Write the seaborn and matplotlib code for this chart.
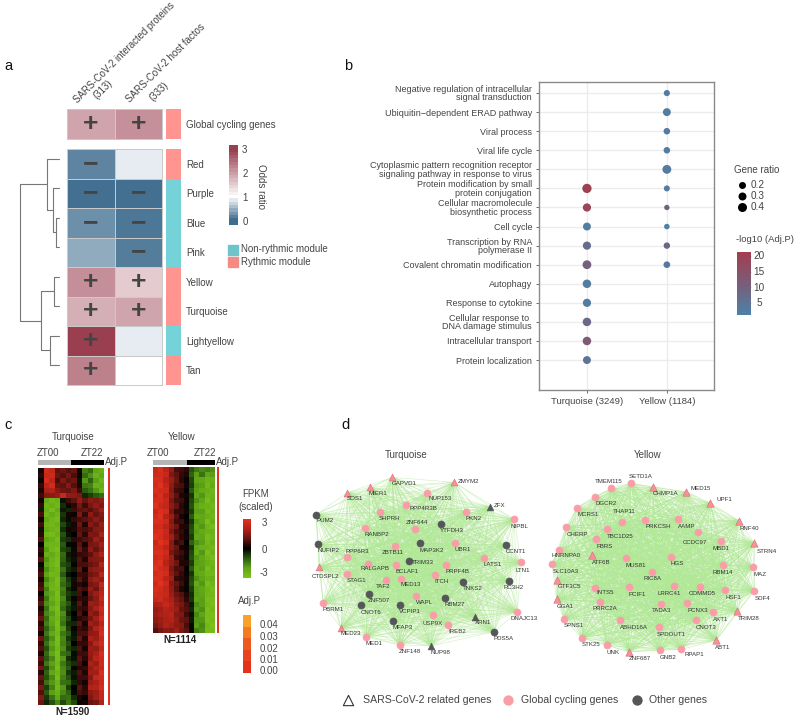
import itertools
import numpy as np
import pandas as pd
import matplotlib
matplotlib.use("Agg")
import matplotlib.pyplot as plt
from matplotlib.colors import LinearSegmentedColormap, ListedColormap, Normalize
from matplotlib.cm import ScalarMappable
from matplotlib.collections import LineCollection
import seaborn as sns

sns.set_theme(style="white")
plt.rcParams["font.family"] = ["Liberation Sans", "DejaVu Sans"]
TXT = "#444444"
plt.rcParams["text.color"] = TXT
plt.rcParams["axes.labelcolor"] = TXT
plt.rcParams["xtick.color"] = TXT
plt.rcParams["ytick.color"] = TXT

W, H = 796, 716
fig = plt.figure(figsize=(W / 100, H / 100), dpi=100)
def pix(x0, y0, x1, y1, **kw):
    return fig.add_axes([x0 / W, 1 - y1 / H, (x1 - x0) / W, (y1 - y0) / H], **kw)

over = pix(0, 0, W, H)
over.set_xlim(0, W); over.set_ylim(H, 0); over.axis("off")
def T(x, y, s, size=7, ha="left", va="center", **kw):
    over.text(x, y, s, fontsize=size, ha=ha, va=va, **kw)

# ---------------- panel a data
a_cols = ["SARS-CoV-2 interacted proteins", "SARS-CoV-2 host factos"]
a_global_name = ["Global cycling genes"]
a_global = [[1.95, 2.15]]
a_global_sign = [["+", "+"]]
a_rows = ["Red", "Purple", "Blue", "Pink", "Yellow", "Turquoise", "Lightyellow", "Tan"]
a_vals = [[0.16, 0.88], [0.03, 0.03], [0.24, 0.08], [0.42, 0.12],
          [2.17, 1.55], [1.83, 1.95], [3.0, 0.88], [2.3, 1.0]]
a_sign = [["\u2212", ""], ["\u2212", "\u2212"], ["\u2212", "\u2212"], ["", "\u2212"],
          ["+", "+"], ["+", "+"], ["+", ""], ["+", ""]]
a_rhythmic = [1, 0, 0, 0, 1, 1, 0, 1]
# dendrogram merges: height, lower child (pos, h), upper child (pos, h)
d_merges = [(2.7, (2.33, 0), (3.33, 0)),
            (5.3, (1.33, 0), (2.83, 2.7)),
            (11.7, (0.33, 0), (2.08, 5.3)),
            (4.3, (4.33, 0), (5.33, 0)),
            (9.0, (6.33, 0), (7.33, 0)),
            (18.0, (4.83, 4.3), (6.83, 9.0)),
            (39.0, (1.2, 11.7), (5.83, 18.0))]

# ---------------- panel b data
b_terms = ["Negative regulation of intracellular\nsignal transduction",
           "Ubiquitin\u2212dependent ERAD pathway", "Viral process", "Viral life cycle",
           "Cytoplasmic pattern recognition receptor\nsignaling pathway in response to virus",
           "Protein modification by small\nprotein conjugation",
           "Cellular macromolecule\nbiosynthetic process", "Cell cycle",
           "Transcription by RNA\npolymerase II", "Covalent chromatin modification",
           "Autophagy", "Response to cytokine", "Cellular response to \nDNA damage stimulus",
           "Intracellular transport", "Protein localization"]
b_modules = ["Turquoise (3249)", "Yellow (1184)"]
b_yellow_ratio = [0.11, 0.27, 0.14, 0.14, 0.37, 0.10, 0.05, 0.06, 0.13, 0.15]
b_yellow_p = [3, 3, 3, 3, 3, 3, 10, 2, 9, 4]
b_turq_terms = b_terms[5:]
b_turq_ratio = [0.42, 0.30, 0.27, 0.30, 0.36, 0.33, 0.30, 0.33, 0.33, 0.27]
b_turq_p = [20, 19, 3, 7, 10, 3, 2.5, 8, 12, 5]

# ---------------- panel c data
c_turq = [
 [0.2,2.6,2.3,0.9,1.1,0.8,1.0,0.2,-1.5,-1.2,-2.1,-2.3],
 [0.4,2.4,2.5,1.1,0.8,1.2,0.7,0.1,-1.2,-1.7,-2.4,-2.0],
 [0.1,2.7,2.2,0.7,1.3,0.9,1.1,-0.2,-1.8,-1.1,-1.9,-2.5],
 [0.5,2.2,2.6,1.0,0.9,1.4,0.8,0.3,-1.4,-1.5,-2.3,-2.2],
 [0.3,1.9,2.0,1.4,1.1,1.0,1.3,0.6,-1.0,-1.3,-1.8,-2.4],
 [0.6,1.4,1.5,1.7,2.4,1.6,1.5,1.3,-0.4,-0.7,-1.0,-1.2],
 [0.2,-2.2,-2.6,-2.4,-0.2,0.6,0.9,1.6,1.0,1.5,1.3,1.6],
 [0.5,-2.5,-2.3,-2.6,-0.5,0.1,0.4,1.2,0.6,1.2,1.6,1.3],
 [-0.3,-2.3,-2.7,-2.2,-0.3,-0.4,0.6,0.9,1.0,0.8,1.2,1.8],
 [0.7,-2.6,-2.2,-2.5,-0.6,0.2,0.1,1.3,0.5,1.5,1.0,1.4],
 [0.1,-2.1,-2.5,-2.7,-0.4,-0.1,0.5,0.7,0.9,1.1,1.5,1.2],
 [0.6,-2.4,-2.6,-2.3,-0.8,-0.3,0.2,1.1,0.3,1.4,1.1,1.7],
 [-0.2,-2.2,-2.4,-2.6,-0.5,0.2,0.3,0.8,0.7,0.9,1.4,1.5],
 [0.4,-2.6,-2.7,-2.4,-0.9,-0.2,0.0,1.0,0.4,1.3,1.2,1.9],
 [0.8,-2.0,-2.3,-2.7,-0.7,-0.5,0.4,0.6,0.8,1.0,1.7,1.4],
 [0.0,-2.4,-2.5,-2.5,-1.0,-0.1,0.1,0.9,0.2,1.2,1.3,1.8],
 [0.5,-1.9,-2.6,-2.8,-0.8,-0.6,-0.1,1.1,0.5,1.5,1.0,1.6],
 [0.3,-2.3,-2.2,-2.6,-1.2,-0.3,0.2,0.5,0.6,0.9,1.5,2.0],
 [0.9,-1.8,-2.4,-2.7,-1.1,-0.4,-0.2,0.8,0.3,1.3,1.4,1.5],
 [-0.1,-2.1,-2.5,-2.8,-0.9,-0.7,0.1,0.7,0.7,1.0,1.2,2.1],
 [0.4,-1.7,-2.3,-2.6,-1.3,-0.5,-0.3,1.0,0.1,1.4,1.6,1.7],
 [0.7,-2.0,-2.6,-2.5,-1.0,-0.2,0.0,0.6,0.5,1.1,1.3,2.2],
 [0.2,-1.6,-2.2,-2.8,-1.4,-0.6,-0.2,0.9,0.4,1.5,1.8,1.6],
 [0.6,-1.9,-2.4,-2.7,-1.2,-0.8,0.2,0.4,0.2,1.2,1.4,2.3],
 [0.8,-1.5,-2.5,-2.6,-1.5,-0.4,-0.1,0.8,0.6,1.6,1.1,2.0],
 [0.1,-1.8,-2.1,-2.8,-1.3,-0.7,-0.4,0.7,0.0,1.3,1.7,2.2],
 [0.5,-1.4,-2.3,-2.7,-1.6,-0.5,0.1,0.5,0.4,1.0,1.5,2.4],
 [0.9,-1.7,-2.0,-2.6,-1.4,-0.9,-0.2,0.9,0.3,1.7,1.6,2.1],
 [0.3,-1.3,-2.4,-2.8,-1.2,-0.6,-0.3,0.6,0.5,1.4,1.9,2.5],
 [0.6,-1.6,-1.9,-2.7,-1.7,-0.4,0.0,0.8,0.1,1.6,1.3,2.3],
 [1.0,-1.2,-2.2,-2.6,-1.5,-0.8,-0.1,0.4,0.6,1.2,1.8,2.6],
 [0.4,-1.5,-2.0,-2.8,-1.3,-0.5,-0.4,0.9,0.2,1.8,1.5,2.2],
 [0.7,-1.1,-1.8,-2.7,-1.8,-0.7,0.1,0.6,0.4,1.3,2.0,2.5],
 [0.2,-1.4,-2.1,-2.6,-1.4,-1.0,-0.2,0.7,0.7,1.5,1.6,2.7],
 [1.1,-1.0,-1.7,-2.8,-1.6,-0.6,-0.3,1.0,0.3,1.9,1.7,2.4],
 [0.5,-1.3,-2.0,-2.7,-1.5,-0.9,0.0,0.5,0.5,1.4,2.1,2.6],
 [0.8,-0.9,-1.8,-2.6,-1.7,-0.7,-0.4,0.8,0.2,1.7,1.6,2.3],
 [0.3,-1.2,-2.1,-2.8,-1.3,-1.1,-0.1,0.6,0.6,1.6,1.9,2.7],
 [0.9,-1.0,-1.6,-2.7,-1.8,-0.5,-0.2,0.9,0.4,1.5,2.2,2.5],
 [0.6,-1.4,-1.9,-2.6,-1.4,-0.8,-0.5,0.7,0.1,1.9,1.7,2.6],
 [1.2,-0.8,-1.7,-2.8,-1.6,-1.0,0.1,0.4,0.5,1.6,2.0,2.4],
 [0.4,-1.1,-2.0,-2.5,-1.7,-0.6,-0.3,0.8,0.3,1.8,1.8,2.8],
 [1.0,-0.9,-1.6,-2.7,-1.5,-0.9,-0.2,0.6,0.6,1.4,2.3,2.6],
 [0.7,-1.3,-1.8,-2.4,-1.3,-1.2,-0.4,0.5,0.2,1.7,1.9,2.5],
 [1.3,-0.7,-1.5,-2.6,-1.8,-0.7,0.0,0.9,0.4,2.0,2.1,2.7],
 [0.8,-1.0,-1.9,-2.3,-1.6,-1.1,-0.1,0.7,0.5,1.5,1.7,2.4],
 [1.4,-0.6,-1.3,-2.1,-1.2,-1.3,-0.5,0.3,0.0,1.3,1.8,2.3],
 [1.1,-0.4,-0.9,-1.6,-0.8,-1.4,-0.8,0.1,0.2,1.0,1.2,2.0]]
c_yell = [
 [2.4,2.8,2.2,1.6,0.7,0.6,0.4,-0.9,-1.4,-1.6,-1.5,-1.7],
 [2.5,2.6,2.4,1.3,0.9,0.5,0.3,-1.1,-1.9,-1.3,-2.0,-1.9],
 [2.7,2.7,2.1,1.7,1.0,0.4,0.1,-0.8,-2.0,-2.1,-2.4,-2.3],
 [2.6,2.9,2.3,1.5,0.8,0.7,0.2,-0.7,-1.8,-1.9,-2.6,-2.2],
 [2.8,2.6,2.5,1.4,0.6,0.5,0.0,-1.0,-1.9,-2.2,-2.3,-2.5],
 [2.5,2.8,2.2,1.6,0.9,0.3,0.2,-0.6,-2.1,-1.8,-2.5,-2.4],
 [2.7,2.7,2.4,1.3,0.7,0.6,0.1,-0.8,-1.7,-2.0,-2.7,-2.3],
 [2.9,2.5,2.3,1.5,1.0,0.4,-0.1,-0.9,-2.0,-2.3,-2.4,-2.6],
 [2.4,2.8,2.6,1.2,0.5,0.5,0.2,-0.7,-1.9,-1.9,-2.6,-2.4],
 [2.6,2.9,2.1,1.7,0.8,0.2,0.0,-1.0,-2.2,-2.1,-2.3,-2.5],
 [2.8,2.7,2.5,1.4,0.6,0.6,0.1,-0.6,-1.8,-2.0,-2.8,-2.3],
 [2.5,2.6,2.2,1.6,1.1,0.3,0.3,-0.8,-2.0,-1.8,-2.5,-2.7],
 [2.7,2.8,2.4,1.3,0.7,0.5,-0.1,-0.9,-1.9,-2.2,-2.4,-2.4],
 [2.9,2.7,2.3,1.8,0.9,0.4,0.2,-0.7,-2.1,-2.0,-2.7,-2.5],
 [2.4,2.9,2.6,1.4,0.5,0.7,0.0,-1.1,-1.7,-1.9,-2.6,-2.3],
 [2.6,2.6,2.2,1.5,1.0,0.2,0.1,-0.6,-2.0,-2.3,-2.4,-2.6],
 [2.8,2.8,2.5,1.2,0.8,0.6,0.2,-0.8,-2.2,-1.8,-2.8,-2.4],
 [2.5,2.7,2.3,1.7,0.6,0.4,-0.1,-0.9,-1.8,-2.1,-2.5,-2.7],
 [2.7,2.9,2.1,1.6,1.1,0.3,0.3,-0.7,-1.9,-2.0,-2.3,-2.5],
 [2.9,2.6,2.4,1.3,0.7,0.7,0.0,-1.0,-2.1,-1.9,-2.7,-2.4],
 [2.6,2.8,2.6,1.5,0.9,0.5,0.1,-0.6,-2.0,-2.2,-2.6,-2.6],
 [2.8,2.7,2.2,1.8,0.5,0.4,0.2,-0.8,-1.7,-2.0,-2.4,-2.3],
 [2.5,2.9,2.5,1.4,1.0,0.6,-0.1,-0.9,-2.2,-1.8,-2.8,-2.5],
 [2.7,2.6,2.3,1.6,0.8,0.3,0.1,-0.7,-1.9,-2.1,-2.5,-2.7],
 [2.6,2.5,2.4,1.7,1.1,0.8,0.3,-0.5,-1.9,-2.0,-2.6,-2.6],
 [2.4,2.6,2.2,1.9,1.3,1.0,0.4,-0.6,-2.0,-1.9,-2.7,-2.7],
 [1.9,2.0,2.4,2.1,1.5,1.2,0.7,-0.3,-1.7,-1.9,-2.6,-2.8],
 [1.6,1.8,2.1,1.9,1.7,1.0,0.8,-0.4,-1.9,-1.7,-2.8,-2.6],
 [1.7,1.9,2.0,2.2,1.4,1.3,0.6,-0.2,-1.6,-2.0,-2.7,-2.8],
 [1.5,1.7,1.9,2.0,1.6,1.1,0.9,-0.3,-1.8,-1.8,-2.8,-2.7],
 [1.2,1.6,2.0,1.8,1.5,1.4,0.7,-0.1,-1.9,-1.6,-2.6,-2.9],
 [0.8,1.2,1.5,1.4,1.8,1.2,0.9,0.1,-1.5,-1.7,-2.7,-2.7]]
c_turq_padj = [[0.0]] * 48
c_yell_padj = [[0.0]] * 32
zt_turq = [0, 0, 0, 0, 0, 0, 1, 1, 1, 1, 1, 1]
zt_yell = [0, 0, 0, 0, 0, 0, 1, 1, 1, 1, 1]
padj_levels = [[0.04], [0.03], [0.02], [0.01], [0.00]]
padj_labels = ["0.04", "0.03", "0.02", "0.01", "0.00"]

# ---------------- panel d data: (name, x, y, label x, label y)
tq_tri_pink = [("GAPVD1",262,172,298,190),("ZMYM2",448,187,490,185),("MIER1",195,202,220,220),
  ("SOS1",127,218,151,237),("CTDSPL2",42,442,60,470),("MED23",108,625,137,641)]
tq_tri_dark = [("ZFX",555,260,585,256),("XRN1",510,590,533,608),("NUP98",378,678,407,697)]
tq_pink = [("NUP153",365,220,407,234),("PPP4R3B",302,255,354,264),("SHPRH",224,277,254,296),
  ("PKN2",483,275,505,295),("NIPBL",628,298,642,320),("ZNF644",331,328,336,309),
  ("RANBP2",180,325,216,344),("ZBTB11",269,379,263,397),("UBR1",450,370,473,389),
  ("PPP6R3",125,411,158,395),("LATS1",537,414,563,433),("LTN1",648,427,652,451),
  ("RALGAPB",188,432,211,446),("BCLAF1",273,435,306,454),("PRPF4B",422,434,456,454),
  ("STAG1",126,462,156,481),("TAF2",243,480,234,499),("MED13",288,476,317,495),
  ("ITCH",389,465,409,485),("WAPL",334,527,359,547),("PBRM1",54,548,85,568),
  ("DNAJC13",637,576,658,596),("USP9X",383,585,384,610),("IREB2",429,616,456,635),
  ("MED1",184,651,208,671),("ZNF148",284,675,315,695)]
tq_dark = [("PUM2",33,284,60,303),("YTFDH3",407,312,442,332),("MAP3K2",346,370,381,390),
  ("NUFIP2",40,373,72,393),("CCNT1",603,375,632,394),("TRIM33",312,423,354,428),
  ("TNKS2",475,485,503,506),("RC3H2",613,483,627,503),("ZNF507",191,522,222,542),
  ("RBM27",419,534,448,553),("CNOT6",168,556,198,576),("VCPIP1",285,555,316,575),
  ("MFAP3",264,604,293,623),("PDS5A",568,635,596,654)]
ye_tri_pink = [("CHMP1A",323,201,362,221),("MED15",424,216,466,204),("UPF1",496,249,537,239),
  ("RNF40",583,303,612,324),("STRN4",628,370,664,394),("ATF6B",141,406,170,428),
  ("GTF3C5",36,481,72,501),("GGA1",35,538,61,559),("TRIM28",577,574,610,596),
  ("ABT1",513,661,534,682),("ZNF687",252,695,285,716)]
ye_pink = [("SETD1A",257,190,288,170),("TMEM115",199,205,191,184),("DGCR2",149,230,182,251),
  ("MCRS1",96,263,129,285),("THAP11",231,305,238,275),("PRKCSH",301,300,339,318),
  ("AAMP",398,296,424,318),("TBC1D25",186,326,227,348),("CHERP",64,320,97,342),
  ("CCDC97",459,337,450,367),("MBD1",527,364,528,384),("FBRS",154,358,179,380),
  ("HNRNPA0",43,389,63,407),("MUS81",243,414,273,436),("HGS",378,410,397,431),
  ("SLC10A3",21,432,61,454),("RBM14",535,436,534,457),("MAZ",625,441,645,463),
  ("RIC8A",320,455,322,477),("INTS5",149,504,181,518),("PCIF1",251,501,278,523),
  ("LRRC41",388,499,372,520),("COMMD5",466,500,472,521),("HSF1",541,511,565,533),
  ("SDF4",628,512,652,534),("PRRC2A",164,545,180,564),("TADA3",348,553,349,572),
  ("PCNX3",427,548,457,571),("AKT1",505,577,527,598),("ABHD16A",225,600,267,622),
  ("CNOT3",453,601,484,623),("SPNS1",56,596,86,617),("SPDOUT1",342,622,379,644),
  ("STK25",110,653,138,674),("UNK",185,676,205,698),("GNB2",344,690,369,712),
  ("RPAP1",409,688,448,703)]

# ================= panel a
BLUE, RED = "#3f6d8f", "#9a3f50"
or_lo, or_hi = -0.15, 3.15
def nv(v): return (v - or_lo) / (or_hi - or_lo)
or_stops = [(0, BLUE), (nv(0), BLUE), (nv(1), "#ffffff"), (nv(3), RED), (1, RED)]
or_cmap = LinearSegmentedColormap.from_list("or", or_stops, N=24)
or_cmap_smooth = LinearSegmentedColormap.from_list("ors", or_stops)
side_cmap = ListedColormap(["#75d2d8", "#ff9490"])
grid_kw = dict(linewidths=0.5, linecolor="#c9c9c9", cbar=False, cmap=or_cmap_smooth, vmin=or_lo, vmax=or_hi,
               fmt="", xticklabels=False, yticklabels=False,
               annot_kws=dict(fontsize=19, color="#444444", fontweight="bold"))
ax = pix(67, 109, 162, 139)
sns.heatmap(np.array(a_global), annot=np.array(a_global_sign), ax=ax, **grid_kw)
ax = pix(67, 149, 162, 385)
sns.heatmap(np.array(a_vals), annot=np.array(a_sign), ax=ax, **grid_kw)
for a_ in fig.axes[-2:]:
    for s in a_.spines.values():
        s.set_visible(True); s.set_color("#c9c9c9"); s.set_linewidth(0.7)

ax = pix(166, 109, 181, 139)
sns.heatmap([[1]], cmap=side_cmap, vmin=0, vmax=1, cbar=False, ax=ax, xticklabels=False, yticklabels=a_global_name)
ax2 = pix(166, 149, 181, 385)
sns.heatmap([[v] for v in a_rhythmic], cmap=side_cmap, vmin=0, vmax=1, cbar=False, ax=ax2,
            xticklabels=False, yticklabels=a_rows)
for a_ in (ax, ax2):
    a_.yaxis.tick_right()
    a_.tick_params(axis="y", length=0, pad=3.5, labelsize=7, labelrotation=0)

# dendrogram
dn = pix(19.7, 149, 58.7, 385)
dn.set_xlim(39, 0); dn.set_ylim(8, 0); dn.axis("off")
for h, (y1, h1), (y2, h2) in d_merges:
    dn.plot([h1, h, h, h2], [y1, y1, y2, y2], color="#777777", lw=0.8, clip_on=False)

# column labels
T(124, 53, a_cols[0], size=6.9, ha="center", rotation=45, rotation_mode="anchor")
T(103, 89, "(313)", ha="center", rotation=45, rotation_mode="anchor")
T(166, 63, a_cols[1], ha="center", rotation=45, rotation_mode="anchor")
T(159, 91, "(333)", ha="center", rotation=45, rotation_mode="anchor")

cax = pix(229, 145, 238, 225)
cb = fig.colorbar(ScalarMappable(Normalize(or_lo, or_hi), or_cmap), cax=cax, ticks=[0, 1, 2, 3])
cb.outline.set_visible(False)
cb.ax.tick_params(length=0, pad=3, labelsize=7)
T(261, 186, "Odds ratio", rotation=-90, ha="center")
over.add_patch(plt.Rectangle((228, 245), 10, 10, color="#6dc5cb"))
over.add_patch(plt.Rectangle((228, 257), 10, 10, color="#f58a84"))
T(241, 249.5, "Non-rythmic module")
T(241, 262, "Rythmic module")

# ================= panel b
rows = [(t, b_modules[1], r, p) for t, r, p in zip(b_terms, b_yellow_ratio, b_yellow_p)]
rows += [(t, b_modules[0], r, p) for t, r, p in zip(b_turq_terms, b_turq_ratio, b_turq_p)]
bdf = pd.DataFrame(rows, columns=["term", "module", "ratio", "p"])
bdf["x"] = bdf["module"].map({m: i for i, m in enumerate(b_modules)})
bdf["y"] = bdf["term"].map({t: i for i, t in enumerate(b_terms)})
p_cmap = LinearSegmentedColormap.from_list("p", ["#4c82a8", "#7a5d78", "#a33e4e"])
p_norm = Normalize(1.2, 21.3)
bx = pix(539, 82, 714, 390)
bx.grid(True, color="#ececec", lw=1)
bx.set_axisbelow(True)
sns.scatterplot(data=bdf, x="x", y="y", hue="p", hue_norm=p_norm, palette=p_cmap, size="ratio",
                sizes=(15, 47), size_norm=(0.05, 0.45), legend=False, linewidth=0, ax=bx, zorder=3)
bx.set_xlim(-0.6, 1.59)
bx.set_ylim(15.57, -0.58)
bx.set_xticks([0, 1]); bx.set_xticklabels(b_modules, fontsize=6.8)
bx.set_yticks(range(len(b_terms))); bx.set_yticklabels(b_terms, fontsize=6.5, linespacing=0.88, ha="right")
bx.set_xlabel(""); bx.set_ylabel("")
bx.tick_params(length=2, width=0.6, color="#555555", pad=3, bottom=True, left=True)
for s in bx.spines.values():
    s.set_visible(True); s.set_color("#8a8a8a"); s.set_linewidth(1)

T(734, 170, "Gene ratio", size=7)
for r, y in zip([0.2, 0.3, 0.4], [185, 196, 207]):
    over.scatter([742], [y], s=(5 + 10 * r) ** 2 * 0.5184, color="black", linewidth=0)
    T(751, y, str(r), size=7.2)
T(736, 239, "-log10 (Adj.P)", size=6.8)
pcax = pix(737, 252, 751, 315)
cb = fig.colorbar(ScalarMappable(p_norm, p_cmap), cax=pcax, ticks=[5, 10, 15, 20])
cb.outline.set_visible(False)
cb.ax.tick_params(length=2.5, width=0.5, color="#bbbbbb", direction="in", labelright=False)
for v, y in zip([20, 15, 10, 5], [256, 272, 288, 303]):
    T(759, y, str(v), size=7.2, ha="center")

# ================= panel c
fp_cmap = LinearSegmentedColormap.from_list("fp", [(0, "#7fc31a"), (1/6, "#5fa516"), (2/6, "#2a5a10"),
    (0.5, "#000000"), (4/6, "#661410"), (5/6, "#b02218"), (1, "#e5321f")])
pa_cmap = LinearSegmentedColormap.from_list("pa", ["#e5321f", "#e8421f", "#ec5a20", "#f37c23", "#f9a22b"])
zt_cmap = ListedColormap(["#b5b5b5", "#000000"])
def hm(rect, data, **kw):
    a_ = pix(*rect)
    sns.heatmap(data, ax=a_, cbar=False, xticklabels=False, yticklabels=False, **kw)
    return a_
hm((38, 468, 104, 705), c_turq, cmap=fp_cmap, vmin=-3, vmax=3)
hm((153, 467, 215, 633), c_yell, cmap=fp_cmap, vmin=-3, vmax=3)
hm((38, 460, 104, 465), [zt_turq], cmap=zt_cmap, vmin=0, vmax=1)
hm((153, 460, 215, 465), [zt_yell], cmap=zt_cmap, vmin=0, vmax=1)
hm((108, 468, 110, 705), c_turq_padj, cmap=pa_cmap, vmin=0, vmax=0.04)
hm((217, 467, 219, 633), c_yell_padj, cmap=pa_cmap, vmin=0, vmax=0.04)
hm((243, 615, 251, 673), padj_levels, cmap=pa_cmap, vmin=0, vmax=0.04)
fcax = pix(243, 519, 251, 578)
cb = fig.colorbar(ScalarMappable(Normalize(-3, 3), fp_cmap), cax=fcax, ticks=[])
cb.outline.set_visible(False)
T(73, 437, "Turquoise", ha="center")
T(182, 437, "Yellow", ha="center")
T(37, 453, "ZT00"); T(81, 453, "ZT22"); T(147, 453, "ZT00"); T(194, 453, "ZT22")
T(105, 462, "Adj.P"); T(216, 462, "Adj.P")
T(73, 712, "N=1590", ha="center", fontweight="bold", color="#222222")
T(180, 640, "N=1114", ha="center", fontweight="bold", color="#222222")
T(256, 494, "FPKM", ha="center"); T(256, 507, "(scaled)", ha="center")
T(264, 523, "3", ha="center"); T(264, 550, "0", ha="center"); T(264, 573, "-3", ha="center")
T(238, 601, "Adj.P")
for s, y in zip(padj_labels, [625, 637, 649, 660, 671]):
    T(260, y, s)

# ================= panel d
EDGE = "#b0e895"
def network(rect, xlim, groups, alpha):
    n = pix(*rect)
    n.set_xlim(0, xlim); n.set_ylim(888, 0); n.axis("off")
    nodes = [row for g, *_ in groups for row in g]
    pts = [(r[1], r[2]) for r in nodes]
    n.add_collection(LineCollection(list(itertools.combinations(pts, 2)), colors=EDGE, linewidths=0.45, alpha=alpha))
    for g, marker, color, ec, size in groups:
        df = pd.DataFrame(g, columns=["name", "x", "y", "lx", "ly"])
        sns.scatterplot(data=df, x="x", y="y", marker=marker, color=color, edgecolor=ec, s=size,
                        linewidth=0.4, ax=n, legend=False, zorder=3)
        for r in g:
            n.text(r[3], r[4], r[0], fontsize=4.4, ha="center", va="center", color="#333333", zorder=4)
    n.set_xlim(0, xlim); n.set_ylim(888, 0); n.set_xlabel(""); n.set_ylabel("")
PINK, DARK = "#fb9da8", "#55565a"
network((305, 420, 550, 716), 735,
        [(tq_tri_pink, "^", "#f98f98", "#d96a74", 24), (tq_tri_dark, "^", DARK, DARK, 24),
         (tq_pink, "o", PINK, PINK, 26), (tq_dark, "o", DARK, DARK, 26)], 0.55)
network((545, 420, 796, 716), 753,
        [(ye_tri_pink, "^", "#f98f98", "#d96a74", 28), (ye_pink, "o", PINK, PINK, 26)], 0.65)
T(406, 455, "Turquoise", ha="center")
T(648, 455, "Yellow", ha="center")
over.scatter([348], [700], marker="^", s=55, facecolor="white", edgecolor="#333333", linewidth=0.8)
T(363, 700, "SARS-CoV-2 related genes", size=7.6)
over.scatter([508], [700], s=55, color=PINK, linewidth=0)
T(521, 700, "Global cycling genes", size=7.6)
over.scatter([637], [700], s=55, color=DARK, linewidth=0)
T(649, 700, "Other genes", size=7.6)
over.set_zorder(10)

for s, x, y in [("a", 4, 66), ("b", 344, 66), ("c", 4, 425), ("d", 341, 425)]:
    T(x, y, s, size=10.5, color="#111111")

fig.savefig("out.png", dpi=100)
